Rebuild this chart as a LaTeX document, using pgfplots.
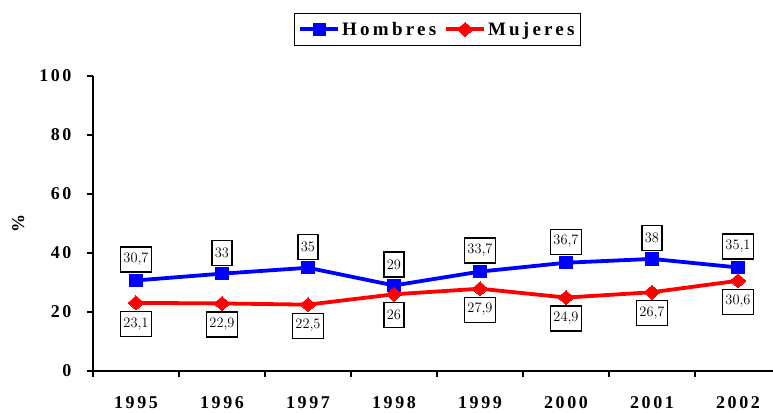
\documentclass[border=0pt]{standalone}
\usepackage{fontspec}
\setmainfont{Liberation Serif}
\newfontfamily\spfont[LetterSpace=14]{Liberation Serif}
\newfontfamily\legfont[LetterSpace=17]{Liberation Serif}
\usepackage{pgfplots}
\pgfplotsset{compat=1.18}
\definecolor{hblue}{RGB}{0,0,255}
\definecolor{mred}{RGB}{255,0,0}
\begin{document}
\begin{tikzpicture}
\useasboundingbox (-93pt,-41pt) rectangle (680pt,371pt);
\begin{axis}[
  at={(0pt,0pt)}, anchor=south west,
  scale only axis,
  width=680pt, height=295pt,
  xmin=-0.5, xmax=7.407, ymin=0, ymax=100,
  axis x line*=bottom, axis y line*=left,
  axis line style={line width=1.6pt, black},
  every tick/.style={line width=1.3pt, black},
  tick align=outside,
  xtick={0,...,7},
  xticklabels={1995,1996,1997,1998,1999,2000,2001,2002},
  major x tick style={draw=none},
  minor xtick={-0.5,0.5,...,6.5},
  minor tick length=6pt,
  major tick length=6pt,
  x tick label style={font=\spfont\bfseries\fontsize{18}{20}\selectfont, anchor=base, yshift=-31pt},
  ytick={0,20,40,60,80,100},
  yticklabels={0,20,40,60,80,100},
  y tick label style={font=\spfont\bfseries\fontsize{18}{20}\selectfont, xshift=-12pt},
  ylabel={\spfont\bfseries\fontsize{18}{20}\selectfont \%},
  ylabel style={at={(axis description cs:-0.11,0.5)}, anchor=center},
  legend style={at={(0.5066,1.158)}, anchor=center, legend columns=2,
    draw=black, line width=1.3pt, font=\legfont\bfseries\fontsize{19}{21}\selectfont,
    inner xsep=4pt, inner ysep=6.5pt,
    /tikz/every even column/.append style={column sep=6pt}},
  legend image code/.code={\draw[#1, mark repeat=2, mark phase=2] plot coordinates {(0pt,0pt) (19pt,0pt) (38pt,0pt)};},
  nodes near coords,
  every node near coord/.append style={draw=black, line width=1.2pt, fill=white, text=black,
     font=\fontsize{14}{15}\selectfont, inner xsep=3pt, minimum height=25pt, anchor=center},
  /pgf/number format/use comma,
  clip=false,
]
\addplot[color=hblue, line width=3.8pt, mark=square*, mark size=6.2pt, mark options={line width=0pt},
  every node near coord/.append style={yshift=21pt}]
  coordinates {(0,30.7) (1,33) (2,35) (3,29) (4,33.7) (5,36.7) (6,38) (7,35.1)};
\addlegendentry{Hombres}
\addplot[color=mred, line width=3.8pt, mark=diamond*, mark size=7pt, mark options={xscale=1.5, line width=0pt},
  every node near coord/.append style={yshift=-21pt}]
  coordinates {(0,23.1) (1,22.9) (2,22.5) (3,26) (4,27.9) (5,24.9) (6,26.7) (7,30.6)};
\addlegendentry{Mujeres}
\end{axis}
\end{tikzpicture}
\end{document}
